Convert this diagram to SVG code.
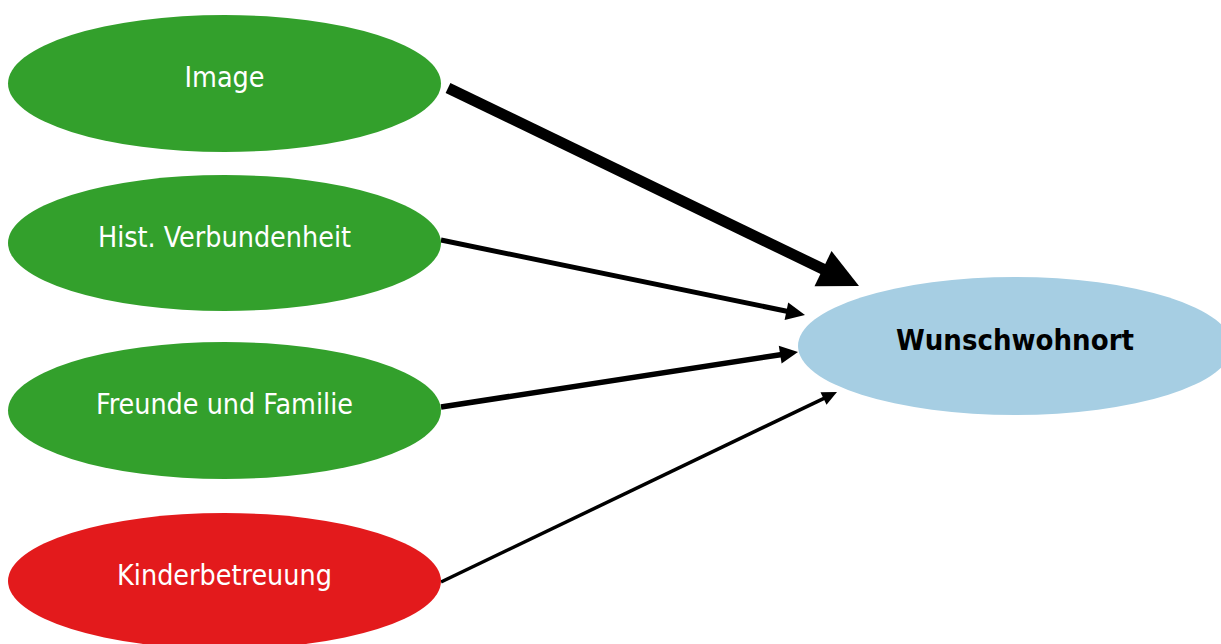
<svg xmlns="http://www.w3.org/2000/svg" width="1221" height="644" viewBox="0 0 1221 644">
  <style>
    .factor { fill: #33a02c; }
    .barrier { fill: #e31a1c; }
    .target { fill: #a6cee3; }
    .label { font-family: "DejaVu Sans Condensed", "Liberation Sans", sans-serif; font-size: 28.4px; fill: #ffffff; text-anchor: middle; }
    .label-main { font-family: "DejaVu Sans Condensed", "Liberation Sans", sans-serif; font-size: 29px; font-weight: bold; fill: #000000; text-anchor: middle; }
    .edge { stroke: #000000; fill: none; stroke-linecap: butt; }
    .head { fill: #000000; stroke: none; }
  </style>
  <rect width="1221" height="644" fill="#ffffff"/>

  <!-- influence arrows; stroke width encodes strength -->
  <g id="connectors">
    <g id="edge-image">
      <line class="edge" x1="448" y1="88" x2="825" y2="270" stroke-width="11"/>
      <polygon class="head" points="859,286 814.5,286.2 831.5,251"/>
    </g>
    <g id="edge-hist">
      <line class="edge" x1="441" y1="240" x2="788" y2="311.5" stroke-width="5"/>
      <polygon class="head" points="805,315 784.6,320 788.2,302.4"/>
    </g>
    <g id="edge-freunde">
      <line class="edge" x1="441" y1="407" x2="782" y2="354.5" stroke-width="5.5"/>
      <polygon class="head" points="798,352 781.6,363.6 778.8,345.8"/>
    </g>
    <g id="edge-kinder">
      <line class="edge" x1="441" y1="582" x2="825" y2="397.8" stroke-width="3.5"/>
      <polygon class="head" points="837,392 826.5,404.8 820.5,392.2"/>
    </g>
  </g>

  <g id="node-image">
    <ellipse class="factor" cx="224.5" cy="83.5" rx="216.5" ry="68.5"/>
    <text class="label" x="224.5" y="87">Image</text>
  </g>
  <g id="node-hist">
    <ellipse class="factor" cx="224.5" cy="243" rx="216.5" ry="68"/>
    <text class="label" x="224.5" y="246.7">Hist. Verbundenheit</text>
  </g>
  <g id="node-freunde">
    <ellipse class="factor" cx="224.5" cy="410.5" rx="216.5" ry="68.5"/>
    <text class="label" x="224.5" y="413.5">Freunde und Familie</text>
  </g>
  <g id="node-kinder">
    <ellipse class="barrier" cx="224.5" cy="581" rx="216.5" ry="68"/>
    <text class="label" x="224.5" y="585">Kinderbetreuung</text>
  </g>
  <g id="node-wunschwohnort">
    <ellipse class="target" cx="1015" cy="346" rx="217" ry="69"/>
    <text class="label-main" x="1015" y="350">Wunschwohnort</text>
  </g>
</svg>
